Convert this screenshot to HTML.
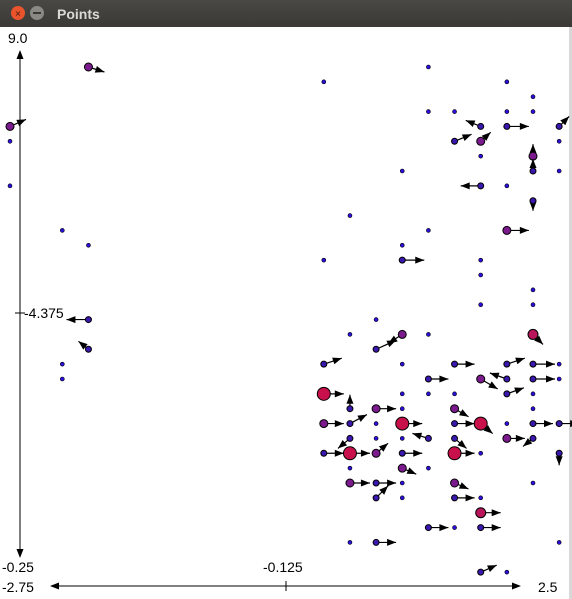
<!DOCTYPE html>
<html><head><meta charset="utf-8"><style>
html,body{margin:0;padding:0;width:572px;height:599px;overflow:hidden;background:#fff;font-family:"Liberation Sans",sans-serif}
#bar{position:absolute;left:0;top:0;width:572px;height:27px;background:linear-gradient(#4a4844,#3a3935)}
svg{position:absolute;left:0;top:0}
</style></head><body>
<div id="bar"></div>
<svg id="chart" width="572" height="599">
<circle cx="18" cy="13" r="7" fill="#e9542c"/>
<text x="18" y="17" font-size="10" fill="#3a1a10" text-anchor="middle">×</text>
<circle cx="37" cy="13" r="7" fill="#8a8984"/>
<rect x="33" y="12" width="8" height="2" fill="#3a3935"/>
<text x="57" y="19" font-size="14" font-weight="bold" fill="#dcdad5">Points</text>
<rect x="0" y="27" width="572" height="572" fill="#fff"/>
<rect x="569" y="27" width="3" height="572" fill="#d8d8d8"/>
<g id="axes"></g><g id="marks"></g>
</svg>
<script>
// points: column index, row index, size class, vector dx, vector dy
const cols=[12,16,19,20,16,17,19,20,18,19,21,17,18,21,18,20,15,20,21,18,19,20,13,16,19,15,12,15,18,18,20,18,20,14,13,15,16,20,14,12,15,17,19,20,21,16,18,19,20,21,12,15,16,17,19,20,13,14,15,17,20,12,13,14,15,17,18,19,20,21,13,14,15,16,17,19,20,12,13,14,15,17,18,21,13,15,16,13,14,15,17,20,14,15,17,18,18,16,17,18,13,14,21,18,19,0,0,0,3,2,3,3,3,2,2];
const rows=[1,0,1,2,3,3,3,3,4,4,4,5,5,5,6,6,7,7,7,8,8,9,10,11,11,12,13,13,13,14,15,16,16,17,18,18,18,18,19,20,20,20,20,20,20,21,21,21,21,21,22,22,22,22,22,22,23,23,23,23,23,24,24,24,24,24,24,24,24,24,25,25,25,25,25,25,25,26,26,26,26,26,26,26,27,27,27,28,28,28,28,28,29,29,29,29,30,31,31,31,32,32,32,34,34,4,5,8,0,11,12,17,19,20,21];
const sizes=[1,1,1,1,1,1,1,1,2,2,2,2,3,1,1,3,1,2,1,2,1,2,1,1,3,1,1,2,1,1,1,1,1,1,1,3,1,4,2,2,1,2,2,2,1,2,3,2,2,1,5,1,1,1,2,1,2,3,1,3,1,3,2,1,5,2,5,1,2,2,2,1,1,2,2,3,2,2,5,3,2,5,1,2,1,3,1,3,2,1,3,1,2,1,2,1,4,2,1,2,1,2,1,2,1,3,1,1,3,1,1,2,2,1,1];
const vx=[0,0,0,0,0,0,0,0,-15,22,10,17,10,0,0,0,0,0,0,-20,0,0,0,0,22,0,0,22,0,0,0,0,0,0,0,-14,0,10,20,18,0,20,18,22,0,20,17,-17,22,0,20,0,0,0,17,0,0,20,0,14,0,20,17,0,20,20,12,0,20,20,-12,0,0,-16,12,18,-10,20,20,12,20,20,0,0,0,14,0,20,20,0,14,0,12,0,20,0,20,20,0,20,0,20,0,16,0,16,0,0,16,0,0,-22,-10,0,0,0];
const vy=[0,0,0,0,0,0,0,0,-6,0,-10,-7,-9,0,0,-12,0,-12,0,0,0,10,0,0,0,0,0,0,0,0,0,0,0,0,0,9,0,10,-9,-6,0,0,-6,0,0,0,10,-6,0,0,0,0,0,0,-6,0,-14,0,0,8,0,0,-9,0,0,0,10,0,0,0,10,0,0,-5,10,0,8,0,0,-10,0,0,0,12,0,6,0,0,0,0,6,0,-12,0,0,0,0,0,0,0,0,0,0,-7,0,-7,0,0,5,0,0,0,-8,0,0,0];
const xTicks=["-2.75","-0.125","2.5"];
const yTicks=["9.0","-4.375","-0.25"];
const xs=c=>10+c*26.15, ys=r=>67+r*14.857;
const NS="http://www.w3.org/2000/svg";
const marks=document.getElementById('marks'), axes=document.getElementById('axes');
function mk(tag,at,parent){const e=document.createElementNS(NS,tag);for(const k in at)e.setAttribute(k,at[k]);parent.appendChild(e);return e;}
function head(x,y,ang,parent){const L=9,W=3.5,c=Math.cos(ang),s=Math.sin(ang);
 const p=[[x,y],[x-L*c+W*s,y-L*s-W*c],[x-L*c-W*s,y-L*s+W*c]];
 return mk('polygon',{points:p.map(q=>q.join(',')).join(' '),fill:'#000'},parent);}
// axes
let e=mk('line',{x1:20,y1:52,x2:20,y2:556,stroke:'#000'},axes);

e=head(20,50,-Math.PI/2,axes);
e=head(20,558,Math.PI/2,axes);
e=mk('line',{x1:15,y1:313,x2:25,y2:313,stroke:'#000'},axes);
e=mk('line',{x1:52,y1:586,x2:519,y2:586,stroke:'#000'},axes);
e=head(50,586,Math.PI,axes);
e=head(521,586,0,axes);
e=mk('line',{x1:286,y1:581,x2:286,y2:591,stroke:'#000'},axes);
const lbl=[[yTicks[0],8,43],[yTicks[1],24,318],[yTicks[2],2,572],[xTicks[0],2,592],[xTicks[1],263,572],[xTicks[2],538,592]];
lbl.forEach((l,i)=>{const t=mk('text',{x:l[1],y:l[2],'font-size':14,fill:'#000'},axes);t.textContent=l[0];
 
 });
const rad=[0,2,3,4,5,6.5], fills=['','#2a0fd8','#3a18b0','#7a1a8c','#b8155a','#c8104a'];
for(let i=0;i<cols.length;i++){
 const x=xs(cols[i]),y=ys(rows[i]);
 const g=mk('g',{},marks);
 
 
 const dx=vx[i],dy=vy[i];
 if(dx||dy){mk('line',{x1:x,y1:y,x2:x+dx,y2:y+dy,stroke:'#000','stroke-width':1.2},g);head(x+dx,y+dy,Math.atan2(dy,dx),g);}
 mk('circle',{cx:x,cy:y,r:rad[sizes[i]],fill:fills[sizes[i]],stroke:'#000','stroke-width':sizes[i]>1?1:0.6},g);
}
</script>
</body></html>
